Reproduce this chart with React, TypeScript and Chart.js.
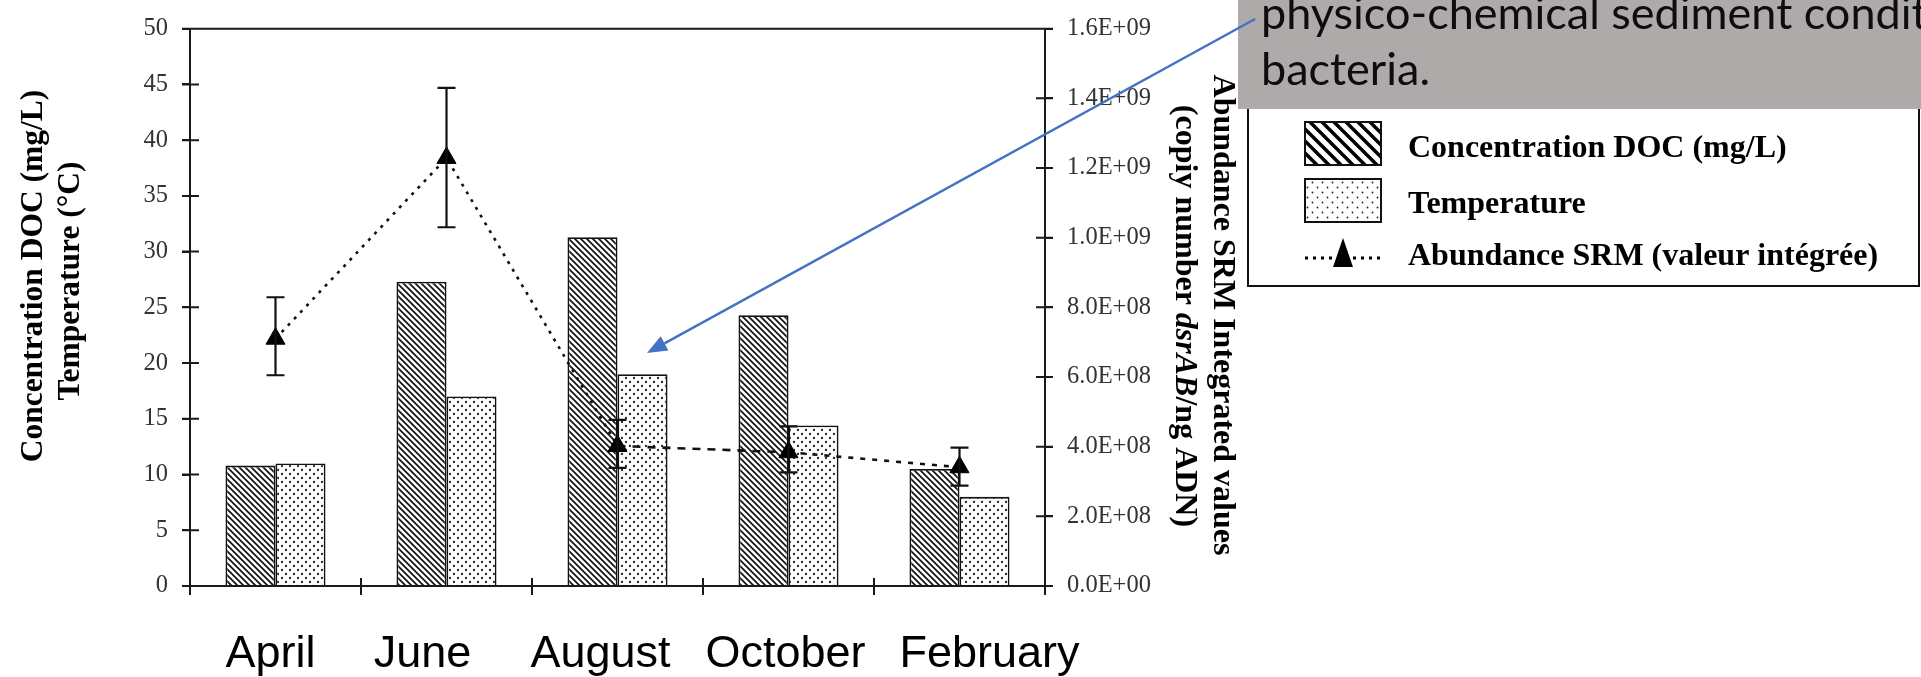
import React, { useEffect, useRef } from "react";
import { Chart, registerables } from "chart.js";

Chart.register(...registerables);

// ---------------- data ----------------
const months = ["April", "June", "August", "October", "February"];
const docValues = [10.8, 27.3, 31.3, 24.3, 10.5];
const tempValues = [11.0, 17.0, 19.0, 14.4, 8.0];
const srmValues = [7.1e8, 1.229e9, 4.02e8, 3.84e8, 3.41e8];
const srmErrHigh = [8.29e8, 1.43e9, 4.77e8, 4.58e8, 3.97e8];
const srmErrLow = [6.05e8, 1.03e9, 3.39e8, 3.26e8, 2.88e8];
const leftAxisTitle = ["Concentration DOC (mg/L)", "Temperature (°C)"];
const rightAxisTitle1 = "Abundance SRM Integrated values";
const rightAxisTitle2 = [
  { t: "(copiy number ", italic: false },
  { t: "dsrAB", italic: true },
  { t: "/ng ADN)", italic: false },
];
const calloutLines = ["physico-chemical sediment conditions", "bacteria."];

const SERIF = '"Liberation Serif", "Times New Roman", serif';
const SANS = '"Liberation Sans", Arial, sans-serif';
const LINE = "#1a1a1a";

function sci(v: number): string {
  if (Math.abs(v) < 1) return "0.0E+00";
  const e = Math.floor(Math.log10(v) + 1e-9);
  const m = v / Math.pow(10, e);
  return m.toFixed(1) + "E+" + String(e).padStart(2, "0");
}

function makeHatch(size: number, lw: number, color: string) {
  const c = document.createElement("canvas");
  c.width = size;
  c.height = size;
  const g = c.getContext("2d")!;
  g.fillStyle = "#fff";
  g.fillRect(0, 0, size, size);
  g.strokeStyle = color;
  g.lineWidth = lw;
  g.beginPath();
  g.moveTo(-2, -2);
  g.lineTo(size + 2, size + 2);
  g.moveTo(-2, size - 2);
  g.lineTo(2, size + 2);
  g.moveTo(size - 2, -2);
  g.lineTo(size + 2, 2);
  g.stroke();
  return g.createPattern(c, "repeat")!;
}

function makeDots(size: number, r: number, color: string) {
  const c = document.createElement("canvas");
  c.width = size;
  c.height = size;
  const g = c.getContext("2d")!;
  g.fillStyle = "#fff";
  g.fillRect(0, 0, size, size);
  g.fillStyle = color;
  const h = size / 4;
  g.beginPath();
  g.arc(h, h, r, 0, Math.PI * 2);
  g.arc(3 * h, 3 * h, r, 0, Math.PI * 2);
  g.fill();
  return g.createPattern(c, "repeat")!;
}

const segDash = [
  [3, 6],
  [3, 6],
  [8, 7],
  [5, 7],
];

export default function App() {
  const ref = useRef<HTMLCanvasElement | null>(null);

  useEffect(() => {
    document.body.style.margin = "0";
    const canvas = ref.current!;
    const hatch = makeHatch(6, 1.7, "#111");
    const dots = makeDots(8, 1.15, "#222");
    const legendHatch = makeHatch(12, 3.5, "#000");
    const legendDots = makeDots(10, 0.9, "#222");

    const framePlugin = {
      id: "frame",
      afterDatasetsDraw(chart: any) {
        const { ctx, chartArea: a, scales } = chart;
        ctx.save();
        ctx.strokeStyle = LINE;
        ctx.lineWidth = 2;
        ctx.beginPath();
        ctx.moveTo(a.left - 8, a.top);
        ctx.lineTo(a.right + 8, a.top);
        ctx.moveTo(a.left, a.top);
        ctx.lineTo(a.left, a.bottom + 8);
        ctx.moveTo(a.right, a.top);
        ctx.lineTo(a.right, a.bottom + 8);
        ctx.moveTo(a.left, a.bottom);
        ctx.lineTo(a.right, a.bottom);
        scales.y.ticks.forEach((t: any) => {
          const yy = scales.y.getPixelForValue(t.value);
          ctx.moveTo(a.left - 8, yy);
          ctx.lineTo(a.left + 9, yy);
        });
        scales.y2.ticks.forEach((t: any) => {
          const yy = scales.y2.getPixelForValue(t.value);
          ctx.moveTo(a.right - 9, yy);
          ctx.lineTo(a.right + 8, yy);
        });
        const n = chart.data.labels.length;
        const w = (a.right - a.left) / n;
        for (let i = 1; i < n; i++) {
          const xx = a.left + i * w;
          ctx.moveTo(xx, a.bottom - 8);
          ctx.lineTo(xx, a.bottom + 9);
        }
        ctx.stroke();

        // error bars for SRM
        const meta = chart.getDatasetMeta(2);
        ctx.strokeStyle = "#111";
        ctx.lineWidth = 2.2;
        ctx.beginPath();
        meta.data.forEach((pt: any, i: number) => {
          const yh = scales.y2.getPixelForValue(srmErrHigh[i]);
          const yl = scales.y2.getPixelForValue(srmErrLow[i]);
          ctx.moveTo(pt.x, yh);
          ctx.lineTo(pt.x, yl);
          ctx.moveTo(pt.x - 9, yh);
          ctx.lineTo(pt.x + 9, yh);
          ctx.moveTo(pt.x - 9, yl);
          ctx.lineTo(pt.x + 9, yl);
        });
        ctx.stroke();
        ctx.restore();
      },
      afterDraw(chart: any) {
        const { ctx, scales } = chart;
        ctx.save();

        // x labels
        const labelShift = [-5, -24, -17, -3, 30];
        ctx.fillStyle = "#000";
        ctx.font = `45px ${SANS}`;
        ctx.textAlign = "center";
        ctx.textBaseline = "alphabetic";
        chart.data.labels.forEach((lab: string, i: number) => {
          const x = scales.x.getPixelForValue(i) + labelShift[i];
          ctx.fillText(lab, x, 667);
        });

        // left axis title (rotated -90)
        ctx.font = `bold 31.5px ${SERIF}`;
        ctx.textBaseline = "middle";
        ctx.textAlign = "center";
        const lpos = [
          [34, 276],
          [71, 281],
        ];
        lpos.forEach(([x, y], i) => {
          ctx.save();
          ctx.translate(x, y);
          ctx.rotate(-Math.PI / 2);
          ctx.fillText(leftAxisTitle[i], 0, 0);
          ctx.restore();
        });

        // right axis title (rotated +90)
        ctx.font = `bold 32px ${SERIF}`;
        ctx.save();
        ctx.translate(1222, 315);
        ctx.rotate(Math.PI / 2);
        ctx.fillText(rightAxisTitle1, 0, 0);
        ctx.restore();
        ctx.save();
        ctx.translate(1184, 316);
        ctx.rotate(Math.PI / 2);
        ctx.textAlign = "left";
        let total = 0;
        rightAxisTitle2.forEach((p) => {
          ctx.font = `${p.italic ? "italic " : ""}bold 32px ${SERIF}`;
          total += ctx.measureText(p.t).width;
        });
        let cx = -total / 2;
        rightAxisTitle2.forEach((p) => {
          ctx.font = `${p.italic ? "italic " : ""}bold 32px ${SERIF}`;
          ctx.fillText(p.t, cx, 0);
          cx += ctx.measureText(p.t).width;
        });
        ctx.restore();

        // legend box
        ctx.fillStyle = "#fff";
        ctx.fillRect(1248, 60, 671, 226);
        ctx.strokeStyle = "#111";
        ctx.lineWidth = 2;
        ctx.strokeRect(1248, 60, 671, 226);
        const ds = chart.data.datasets;
        ctx.fillStyle = legendHatch;
        ctx.fillRect(1305, 122, 76, 43);
        ctx.strokeRect(1305, 122, 76, 43);
        ctx.fillStyle = legendDots;
        ctx.fillRect(1305, 179, 76, 43);
        ctx.strokeRect(1305, 179, 76, 43);
        ctx.strokeStyle = "#000";
        ctx.lineWidth = 3;
        ctx.setLineDash([3, 5]);
        ctx.beginPath();
        ctx.moveTo(1305, 258);
        ctx.lineTo(1381, 258);
        ctx.stroke();
        ctx.setLineDash([]);
        ctx.fillStyle = "#000";
        ctx.beginPath();
        ctx.moveTo(1343, 238);
        ctx.lineTo(1353, 267);
        ctx.lineTo(1333, 267);
        ctx.closePath();
        ctx.fill();
        ctx.font = `bold 32px ${SERIF}`;
        ctx.textAlign = "left";
        ctx.textBaseline = "alphabetic";
        ctx.fillText(ds[0].label, 1408, 157);
        ctx.fillText(ds[1].label, 1408, 213);
        ctx.fillText(ds[2].label, 1408, 265);

        // grey callout box
        ctx.fillStyle = "#aeaaaa";
        ctx.fillRect(1238, 0, 683, 109);
        ctx.save();
        ctx.beginPath();
        ctx.rect(1238, 0, 683, 109);
        ctx.clip();
        ctx.fillStyle = "#0d0d0d";
        ctx.font = `45px Lato, "Open Sans", sans-serif`;
        ctx.fillText(calloutLines[0], 1261, 29);
        ctx.fillText(calloutLines[1], 1261, 85);
        ctx.restore();

        // blue arrow
        const x0 = 1255, y0 = 19, x1 = 647, y1 = 353;
        ctx.strokeStyle = "#4472c4";
        ctx.fillStyle = "#4472c4";
        ctx.lineWidth = 2.5;
        const ang = Math.atan2(y1 - y0, x1 - x0);
        const hl = 20, hw = 8;
        const bx = x1 - hl * Math.cos(ang), by = y1 - hl * Math.sin(ang);
        ctx.beginPath();
        ctx.moveTo(x0, y0);
        ctx.lineTo(bx, by);
        ctx.stroke();
        ctx.beginPath();
        ctx.moveTo(x1, y1);
        ctx.lineTo(bx + hw * Math.sin(ang), by - hw * Math.cos(ang));
        ctx.lineTo(bx - hw * Math.sin(ang), by + hw * Math.cos(ang));
        ctx.closePath();
        ctx.fill();

        ctx.restore();
      },
    };

    const tickFont = { family: SERIF, size: 24.5 };

    const chart = new Chart(canvas, {
      type: "bar",
      data: {
        labels: months,
        datasets: [
          {
            type: "bar",
            label: "Concentration DOC (mg/L)",
            data: docValues,
            backgroundColor: hatch as any,
            borderColor: "#111",
            borderWidth: 1.8,
            yAxisID: "y",
            order: 2,
            categoryPercentage: 0.585,
            barPercentage: 1,
          },
          {
            type: "bar",
            label: "Temperature",
            data: tempValues,
            backgroundColor: dots as any,
            borderColor: "#111",
            borderWidth: 1.8,
            yAxisID: "y",
            order: 2,
            categoryPercentage: 0.585,
            barPercentage: 1,
          },
          {
            type: "line",
            label: "Abundance SRM (valeur intégrée)",
            data: srmValues,
            yAxisID: "y2",
            borderColor: "#111",
            borderWidth: 2.6,
            borderDash: [3, 6],
            segment: { borderDash: (c: any) => segDash[c.p0DataIndex] },
            pointStyle: "triangle",
            pointRadius: 11,
            pointBackgroundColor: "#000",
            pointBorderColor: "#000",
            pointBorderWidth: 1,
            fill: false,
            tension: 0,
            order: 0,
          } as any,
        ],
      },
      options: {
        animation: false,
        responsive: false,
        maintainAspectRatio: false,
        devicePixelRatio: 1,
        layout: { padding: { top: 18, left: 0, right: 0, bottom: 0 } },
        plugins: { legend: { display: false }, tooltip: { enabled: false } },
        scales: {
          x: {
            offset: true,
            grid: {
              display: true,
              offset: true,
              drawOnChartArea: false,
              drawTicks: true,
              tickLength: 9,
              color: LINE,
              lineWidth: 2,
            },
            border: { display: true, color: LINE, width: 2 },
            ticks: { display: false },
            afterFit: (s: any) => {
              s.height = 91;
            },
          },
          y: {
            position: "left",
            min: 0,
            max: 50,
            ticks: { stepSize: 5, color: "#333", padding: 14, font: tickFont },
            grid: {
              drawOnChartArea: false,
              drawTicks: true,
              tickLength: 8,
              color: LINE,
              lineWidth: 2,
            },
            border: { display: true, color: LINE, width: 2 },
            afterFit: (s: any) => {
              s.width = 190;
            },
          },
          y2: {
            position: "right",
            min: 0,
            max: 1.6e9,
            ticks: {
              stepSize: 2e8,
              color: "#333",
              padding: 14,
              font: tickFont,
              callback: (v: any) => sci(Number(v)),
            },
            grid: {
              drawOnChartArea: false,
              drawTicks: true,
              tickLength: 8,
              color: LINE,
              lineWidth: 2,
            },
            border: { display: true, color: LINE, width: 2 },
            afterFit: (s: any) => {
              s.width = 876;
            },
          },
        },
      } as any,
      plugins: [framePlugin],
    });

    return () => chart.destroy();
  }, []);

  return (
    <div style={{ position: "relative", width: 1921, height: 677, background: "#fff" }}>
      <canvas ref={ref} width={1921} height={677} style={{ display: "block", width: 1921, height: 677 }} />
    </div>
  );
}
